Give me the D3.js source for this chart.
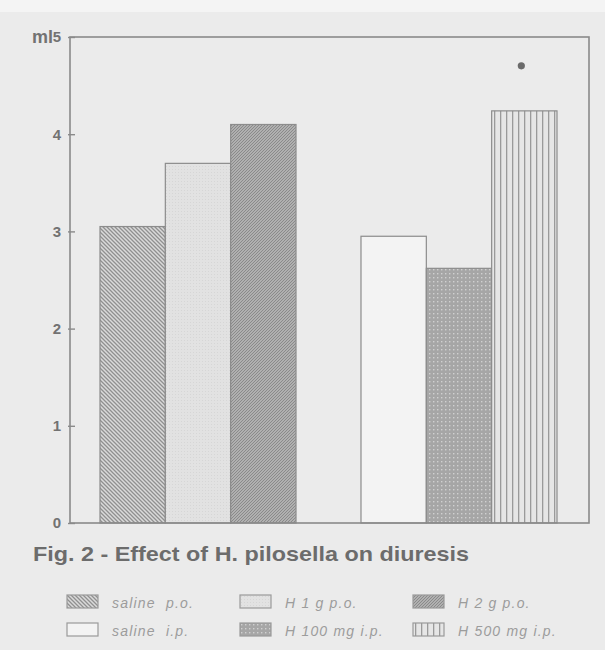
<!DOCTYPE html>
<html>
<head>
<meta charset="utf-8">
<script src="https://cdn.jsdelivr.net/npm/d3@7"></script>
<style>
  html, body { margin: 0; padding: 0; background: #ebebeb; }
  svg { display: block; }
</style>
</head>
<body>
<svg id="chart" width="605" height="650"></svg>
<script>
// Diuresis (ml) after treatment with H. pilosella
const routes = ["p.o.", "i.p."];
const treatments = [0, 1, 2];
const labels = ["saline p.o.", "H 1 g p.o.", "H 2 g p.o.", "saline i.p.", "H 100 mg i.p.", "H 500 mg i.p."];
const legendLabels = ["saline  p.o.", "H 1 g p.o.", "H 2 g p.o.", "saline  i.p.", "H 100 mg i.p.", "H 500 mg i.p."];
const routeOf = ["p.o.", "p.o.", "p.o.", "i.p.", "i.p.", "i.p."];
const slotOf = [0, 1, 2, 0, 1, 2];
const volumes = [3.05, 3.70, 4.10, 2.95, 2.62, 4.24];
const significant = [false, false, false, false, false, true];
const yTicks = [0, 1, 2, 3, 4, 5];
const patternIds = ["hatchBack", "lightFill", "denseHatch", "plain", "dotGrid", "vertLines"];

const svg = d3.select("#chart");
const frame = { left: 70, right: 589, top: 37, bottom: 523 };

// page tone
svg.append("rect").attr("width", 605).attr("height", 650).attr("fill", "#ebebeb");
svg.append("rect").attr("width", 605).attr("height", 12).attr("fill", "#f4f4f4");

// fill patterns
const defs = svg.append("defs");
function pat(id, size, bg, draw) {
  const p = defs.append("pattern").attr("id", id).attr("patternUnits", "userSpaceOnUse")
    .attr("width", size).attr("height", size);
  p.append("rect").attr("width", size).attr("height", size).attr("fill", bg);
  draw(p);
}
pat("hatchBack", 4, "#dadada", p => {
  p.append("path").attr("d", "M-1,-1 L5,5 M-1,3 L1,5 M3,-1 L5,1").attr("stroke", "#909090").attr("stroke-width", 1.3);
});
pat("lightFill", 3, "#e2e2e2", p => {
  p.append("rect").attr("x", 1).attr("y", 1).attr("width", 1).attr("height", 1).attr("fill", "#d6d6d6");
});
pat("denseHatch", 3, "#b0b0b0", p => {
  p.append("path").attr("d", "M-1,4 L4,-1 M-1,1 L1,-1 M2,4 L4,2").attr("stroke", "#8a8a8a").attr("stroke-width", 1);
});
pat("plain", 4, "#f3f3f3", p => {});
pat("dotGrid", 4, "#a6a6a6", p => {
  p.append("rect").attr("x", 1).attr("y", 1).attr("width", 1.4).attr("height", 1.4).attr("fill", "#d0d0d0");
});
pat("vertLines", 6, "#e6e6e6", p => {
  p.append("rect").attr("x", 2).attr("y", 0).attr("width", 1.3).attr("height", 6).attr("fill", "#9a9a9a");
});

// scales
const y = d3.scaleLinear().domain([0, 5]).range([frame.bottom, frame.top]);
const xRoute = d3.scaleBand().domain(routes).range([100, 557]).paddingInner(0.249).paddingOuter(0);
const xSlot = d3.scaleBand().domain(treatments).range([0, xRoute.bandwidth()]).padding(0);

// bars
const bars = svg.append("g");
bars.selectAll("rect").data(volumes).join("rect")
  .attr("x", (d, i) => xRoute(routeOf[i]) + xSlot(slotOf[i]))
  .attr("y", d => y(d))
  .attr("width", xSlot.bandwidth())
  .attr("height", d => y(0) - y(d))
  .attr("fill", (d, i) => `url(#${patternIds[i]})`)
  .attr("stroke", "#8c8c8c")
  .attr("stroke-width", 1.2);

// significance marker
const marks = volumes.map((v, i) => ({ v, i })).filter(d => significant[d.i]);
svg.append("g").selectAll("circle").data(marks)
  .join("circle")
  .attr("cx", d => xRoute(routeOf[d.i]) + xSlot(slotOf[d.i]) + xSlot.bandwidth() / 2 - 3)
  .attr("cy", d => y(d.v) - 45)
  .attr("r", 3.6)
  .attr("fill", "#6a6a6a");

// frame
svg.append("rect")
  .attr("x", frame.left).attr("y", frame.top)
  .attr("width", frame.right - frame.left).attr("height", frame.bottom - frame.top)
  .attr("fill", "none").attr("stroke", "#8a8a8a").attr("stroke-width", 1.6);

// y axis
const yAxis = svg.append("g").attr("transform", `translate(${frame.left},0)`)
  .call(d3.axisLeft(y).tickValues(yTicks).tickSize(-5).tickPadding(9).tickFormat(d3.format("d")));
yAxis.select(".domain").remove();
yAxis.selectAll(".tick line").attr("stroke", "#8a8a8a").attr("stroke-width", 1.4).attr("x1", -2);
yAxis.selectAll(".tick text")
  .attr("fill", "#727272").attr("font-family", "Liberation Sans, Arial, sans-serif")
  .attr("font-weight", "bold").attr("font-size", 15);

// unit label
svg.append("text").attr("x", 53).attr("y", y(5)).attr("dy", "0.32em")
  .attr("text-anchor", "end")
  .attr("fill", "#727272").attr("font-family", "Liberation Sans, Arial, sans-serif")
  .attr("font-weight", "bold").attr("font-size", 18).text("ml");

// caption
svg.append("text").attr("x", 33).attr("y", 561)
  .attr("fill", "#6c6c6c").attr("font-family", "Liberation Sans, Arial, sans-serif")
  .attr("font-weight", "bold").attr("font-size", 21)
  .attr("textLength", 436).attr("lengthAdjust", "spacingAndGlyphs")
  .text("Fig. 2 - Effect of H. pilosella on diuresis");

// legend
const legendCol = d3.scaleOrdinal().domain([0, 1, 2]).range([67, 240, 413]);
const legendRow = d3.scaleOrdinal().domain([0, 1]).range([595, 623]);
const leg = svg.append("g").selectAll("g").data(labels).join("g")
  .attr("transform", (d, i) => `translate(${legendCol(i % 3)},${legendRow(Math.floor(i / 3))})`);
leg.append("rect").attr("width", 31).attr("height", 13)
  .attr("fill", (d, i) => `url(#${patternIds[i]})`)
  .attr("stroke", "#9a9a9a").attr("stroke-width", 1.2);
leg.append("text").attr("x", 45).attr("y", 12.5)
  .attr("fill", "#9c9c9c").attr("font-family", "Liberation Sans, Arial, sans-serif")
  .attr("font-style", "italic").attr("font-size", 14).attr("letter-spacing", 1.2)
  .attr("xml:space", "preserve")
  .style("white-space", "pre")
  .text((d, i) => legendLabels[i]);
</script>
</body>
</html>
